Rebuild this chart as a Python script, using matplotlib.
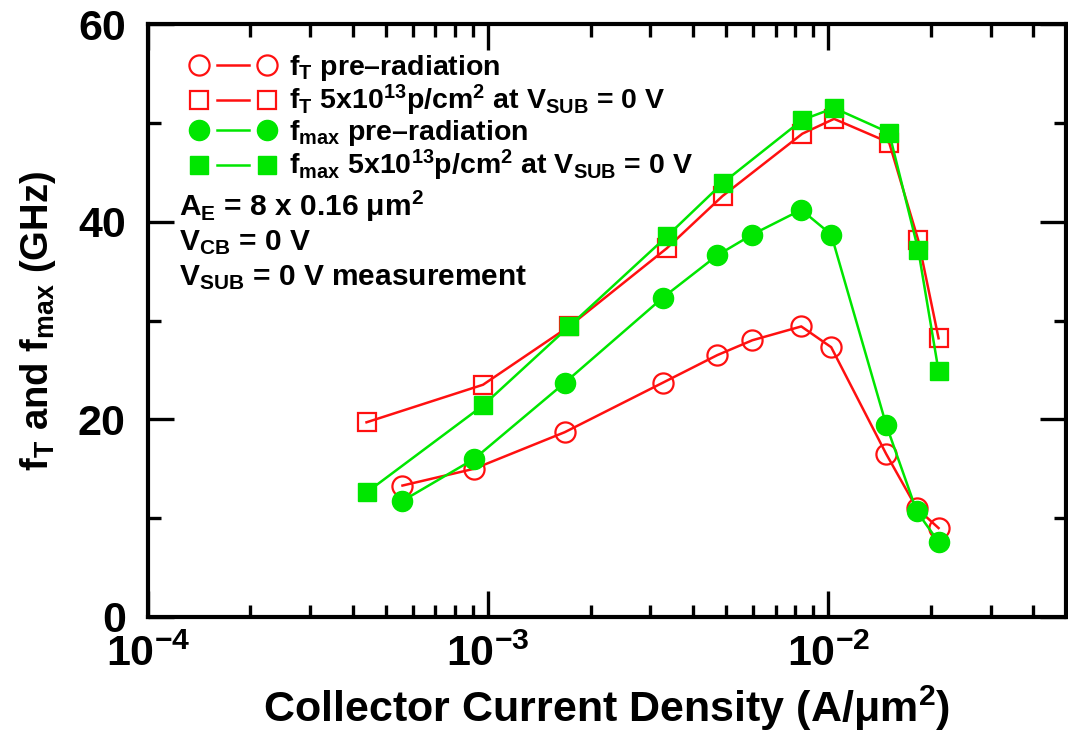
import numpy as np
import matplotlib
matplotlib.use('Agg')
import matplotlib.pyplot as plt
from matplotlib.ticker import LogLocator, MultipleLocator, NullFormatter
from matplotlib.lines import Line2D
from matplotlib.legend_handler import HandlerLine2D

plt.rcParams['font.family'] = ['Liberation Sans', 'DejaVu Sans']
plt.rcParams['font.weight'] = 'bold'
plt.rcParams['axes.labelweight'] = 'bold'
plt.rcParams['mathtext.fontset'] = 'custom'
plt.rcParams['mathtext.rm'] = 'Liberation Sans:bold'
plt.rcParams['mathtext.it'] = 'Liberation Sans:bold'
plt.rcParams['mathtext.bf'] = 'Liberation Sans:bold'
plt.rcParams['mathtext.default'] = 'regular'

# collector current density (A/um^2)
jc_pre = [5.6e-4, 9.1e-4, 1.68e-3, 3.26e-3, 4.72e-3, 5.98e-3, 8.33e-3, 1.02e-2, 1.48e-2, 1.82e-2, 2.11e-2]
jc_rad = [4.39e-4, 9.66e-4, 1.73e-3, 3.35e-3, 4.89e-3, 8.39e-3, 1.04e-2, 1.51e-2, 1.84e-2, 2.11e-2]

# GHz
ft_pre = [13.3, 15.0, 18.7, 23.7, 26.5, 28.0, 29.4, 27.3, 16.5, 11.0, 9.0]
ft_rad = [19.7, 23.5, 29.4, 37.3, 42.6, 48.9, 50.4, 48.0, 38.1, 28.2]
fmax_pre = [11.75, 16.0, 23.7, 32.3, 36.6, 38.7, 41.2, 38.7, 19.45, 10.7, 7.6]
fmax_rad = [12.6, 21.4, 29.4, 38.5, 43.9, 50.3, 51.5, 49.0, 37.1, 24.9]

labels = [r'f$_{T}$ pre–radiation',
          r'f$_{T}$ 5x10$^{13}$p/cm$^{2}$ at V$_{SUB}$ = 0 V',
          r'f$_{max}$ pre–radiation',
          r'f$_{max}$ 5x10$^{13}$p/cm$^{2}$ at V$_{SUB}$ = 0 V']

RED = '#ff1010'
GREEN = '#00e600'


class GapLine(HandlerLine2D):
    # two markers with a short line between them, not touching
    def create_artists(self, legend, orig_handle, xdescent, ydescent,
                       width, height, fontsize, trans):
        arts = super().create_artists(legend, orig_handle, xdescent, ydescent,
                                      width, height, fontsize, trans)
        leg = arts[0]
        xd = leg.get_xdata()
        yd = leg.get_ydata()
        g = 0.27 * (xd[-1] - xd[0])
        seg = Line2D([xd[0] + g, xd[-1] - g], [yd[0], yd[0]],
                     color=leg.get_color(), lw=leg.get_linewidth())
        seg.set_transform(trans)
        leg.set_linestyle('none')
        return [seg, leg]


fig = plt.figure(figsize=(10.68, 7.4), dpi=100)
ax = fig.add_axes([148/1068, 123/740, 918/1068, 593/740])

ms = 14.5
lw = 1.8
ax.plot(jc_pre, ft_pre, '-', color=RED, lw=lw, marker='o', ms=ms,
        mfc='none', mec=RED, mew=1.6)
ax.plot(jc_rad, ft_rad, '-', color=RED, lw=lw, marker='s', ms=ms-1,
        mfc='none', mec=RED, mew=1.6)
ax.plot(jc_pre, fmax_pre, '-', color=GREEN, lw=lw, marker='o', ms=ms,
        mfc=GREEN, mec=GREEN)
ax.plot(jc_rad, fmax_rad, '-', color=GREEN, lw=lw, marker='s', ms=ms-1,
        mfc=GREEN, mec=GREEN)

ax.set_xscale('log')
ax.set_xlim(1e-4, 5e-2)
ax.set_ylim(0, 60)
ax.xaxis.set_major_locator(LogLocator(base=10))
ax.xaxis.set_minor_locator(LogLocator(base=10, subs=np.arange(2, 10)))
ax.xaxis.set_minor_formatter(NullFormatter())
ax.yaxis.set_major_locator(MultipleLocator(20))
ax.yaxis.set_minor_locator(MultipleLocator(10))

for s in ax.spines.values():
    s.set_linewidth(3)
ax.tick_params(which='both', direction='in', top=True, right=True, width=2.4)
ax.tick_params(which='major', length=19, labelsize=31)
ax.tick_params(axis='y', which='major', pad=16)
ax.tick_params(axis='x', which='major', pad=13)
ax.tick_params(which='minor', length=9)

ax.set_xlabel(r'Collector Current Density (A/μm$^{2}$)', fontsize=31, labelpad=6)
ax.set_ylabel(r'f$_{T}$ and f$_{max}$ (GHz)', fontsize=27.5, labelpad=14)

# legend: marker - line - marker
handles = [Line2D([], [], color=RED, lw=lw, marker='o', ms=ms, mfc='none', mec=RED, mew=1.6),
           Line2D([], [], color=RED, lw=lw, marker='s', ms=ms-1, mfc='none', mec=RED, mew=1.6),
           Line2D([], [], color=GREEN, lw=lw, marker='o', ms=ms, mfc=GREEN, mec=GREEN),
           Line2D([], [], color=GREEN, lw=lw, marker='s', ms=ms-1, mfc=GREEN, mec=GREEN)]
ax.legend(handles, labels, loc='upper left', bbox_to_anchor=(0.046, 0.951),
          frameon=False, fontsize=20.5, numpoints=2, handlelength=3.0,
          handletextpad=0.47, labelspacing=0.0, borderpad=0, borderaxespad=0,
          handler_map={Line2D: GapLine(numpoints=2)})

ax.text(0.034, 0.676, r'A$_{E}$ = 8 x 0.16 μm$^{2}$', transform=ax.transAxes,
        fontsize=21.5, va='baseline')
ax.text(0.034, 0.618, r'V$_{CB}$ = 0 V', transform=ax.transAxes,
        fontsize=21.5, va='baseline')
ax.text(0.034, 0.559, r'V$_{SUB}$ = 0 V measurement', transform=ax.transAxes,
        fontsize=21.5, va='baseline')

fig.savefig('out.png', dpi=100)
